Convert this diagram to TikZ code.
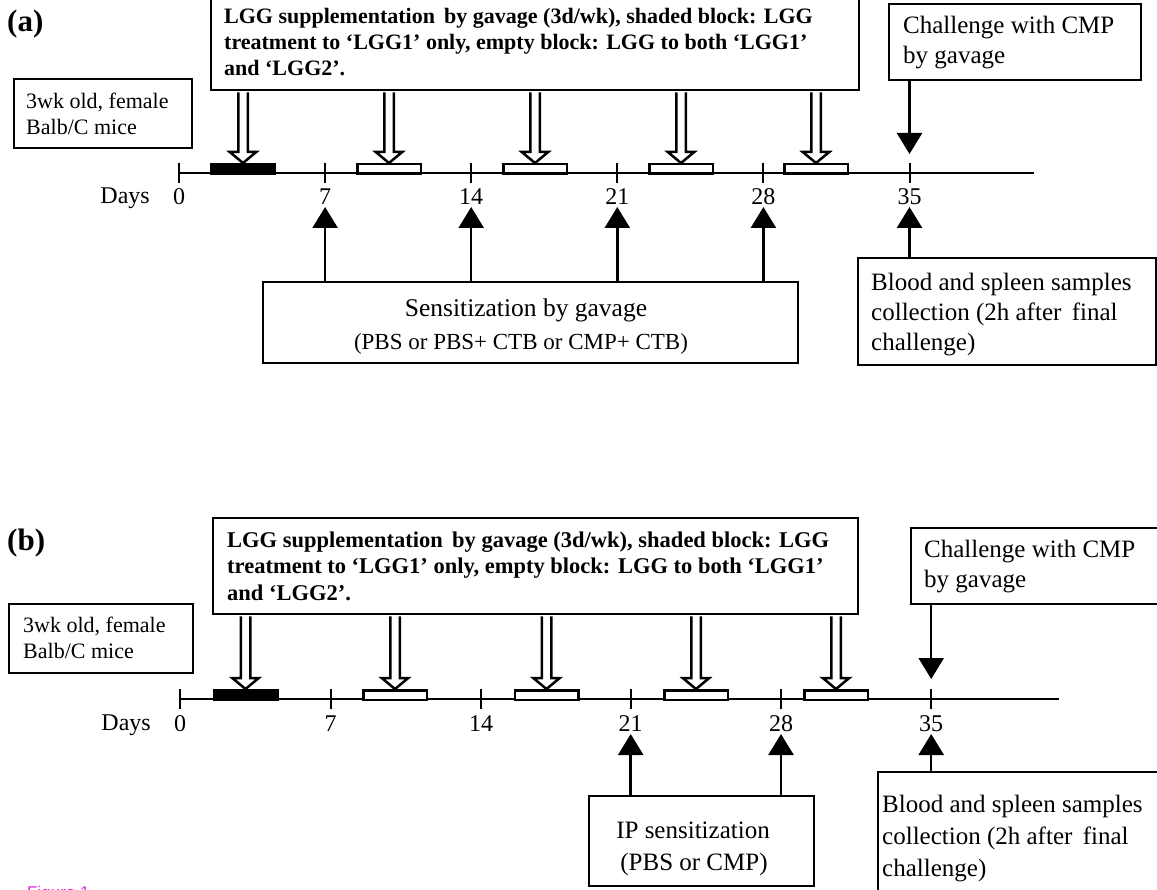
\documentclass[tikz,border=0pt]{standalone}
\usepackage{fontspec}
\setmainfont{Liberation Serif}
\newfontfamily\figsans{Liberation Sans}
\usetikzlibrary{arrows.meta,calc}
\definecolor{figpink}{RGB}{236,40,230}
\tikzset{
  box/.style={draw, line width=2.2pt, inner sep=0pt, anchor=north west},
  txt/.style={inner sep=0pt, anchor=north west, align=left},
  ctxt/.style={inner sep=0pt, anchor=base},
  blk/.style={draw, line width=2.5pt, minimum width=63.5pt, minimum height=9.5pt, inner sep=0pt, fill=white},
  blkfill/.style={blk, fill=black},
  hollow/.style={draw, fill=white, line width=2.5pt, line join=miter},
  solidarr/.style={line width=2.5pt, -{Triangle[width=25pt,length=21pt]}},
  axisline/.style={line width=2pt},
  tickl/.style={line width=2pt},
  num/.style={inner sep=0pt, anchor=base, font=\fontsize{24}{28}\selectfont},
  panel/.style={inner sep=0pt, anchor=base west, font=\fontsize{31}{36}\selectfont\bfseries},
}
\newcommand\hollowarr[2]{%
  \draw[hollow] ($(#1.south -| #2.north)+(-4.75,1.2)$) -- ($(#2.north)+(-4.75,-11)$)
    -- ($(#2.north)+(-13.25,-11)$) -- (#2.north) -- ($(#2.north)+(13.25,-11)$)
    -- ($(#2.north)+(4.75,-11)$) -- ($(#1.south -| #2.north)+(4.75,1.2)$);}
\begin{document}
\begin{tikzpicture}[x=1pt,y=-1pt]
\useasboundingbox (0,0) rectangle (1157,890);
\fill[white] (0,0) rectangle (1157,890);

% ================= panel (a) =================
\node[panel] (labA) at (7,32) {(a)};

\node[box, minimum width=178pt, minimum height=69pt] (mouseA) at (13,78) {};
\node[txt, font=\fontsize{22}{25.5}\selectfont] (mouseAt) at (26,93) {3wk old, female\\Balb/C mice};

\node[box, minimum width=648pt, minimum height=97pt] (lggA) at (210,-8) {};
\node[txt, font=\fontsize{22}{26}\selectfont\bfseries] (lggAt) at (224,8) {LGG supplementation\, by gavage (3d/wk), shaded block: LGG\\treatment to ‘LGG1’ only, empty block: LGG to both ‘LGG1’\\and ‘LGG2’.};

\node[box, minimum width=252pt, minimum height=76pt] (chalA) at (888,3) {};
\node[txt, font=\fontsize{25}{30}\selectfont] (chalAt) at (903,16) {Challenge with CMP\\by gavage};

\node[box, minimum width=535pt, minimum height=81pt] (sensA) at (262,281) {};
\node[ctxt, font=\fontsize{25.5}{30}\selectfont] (sensAt1) at (526,317) {Sensitization by gavage};
\node[ctxt, font=\fontsize{23}{27}\selectfont] (sensAt2) at (521,350) {(PBS or PBS+ CTB or CMP+ CTB)};

\node[box, minimum width=298pt, minimum height=107pt] (bloodA) at (857,257) {};
\node[txt, font=\fontsize{25}{30}\selectfont] (bloodAt) at (871,273) {Blood and spleen samples\\collection (2h after\, final\\challenge)};

% axis (a)
\coordinate (aend) at (1034,173);
\foreach \d/\x in {0/179,7/325.1,14/471.2,21/617.3,28/763.4,35/909.5}{
  \coordinate (a\d) at (\x,173);
  \draw[tickl] ($(a\d)+(0,-10)$) -- ($(a\d)+(0,10)$);
  \node[num] (na\d) at ($(a\d)+(0,32)$) {\d};
}
\draw[axisline] (a0) -- (aend);
\node[inner sep=0pt, anchor=base east, font=\fontsize{24}{28}\selectfont] (daysA) at (150,204) {Days};

% blocks (a)
\node[blkfill] (bA1) at (243,169) {};
\node[blk] (bA2) at (389,169) {};
\node[blk] (bA3) at (535,169) {};
\node[blk] (bA4) at (681,169) {};
\node[blk] (bA5) at (816,169) {};
\foreach \i in {1,...,5}{\hollowarr{lggA}{bA\i}}

% solid arrows (a)
\coordinate (cA) at (909.5,154);
\draw[solidarr] (chalA.south -| cA) -- (cA);
\foreach \d in {7,14,21,28}{
  \coordinate (uA\d) at ($(a\d)+(0,34)$);
  \draw[solidarr] (sensA.north -| uA\d) -- (uA\d);
}
\coordinate (uA35) at ($(a35)+(0,34)$);
\draw[solidarr] (bloodA.north -| uA35) -- (uA35);

% ================= panel (b) =================
\node[panel] (labB) at (7,550) {(b)};

\node[box, minimum width=184pt, minimum height=69pt] (mouseB) at (8,603) {};
\node[txt, font=\fontsize{22}{26}\selectfont] (mouseBt) at (23,617) {3wk old, female\\Balb/C mice};

\node[box, minimum width=645pt, minimum height=96pt] (lggB) at (212,517) {};
\node[txt, font=\fontsize{22.5}{26.5}\selectfont\bfseries] (lggBt) at (227,531.5) {LGG supplementation\, by gavage (3d/wk), shaded block: LGG\\treatment to ‘LGG1’ only, empty block: LGG to both ‘LGG1’\\and ‘LGG2’.};

\node[box, minimum width=260pt, minimum height=76pt] (chalB) at (910,527) {};
\node[txt, font=\fontsize{25}{30}\selectfont] (chalBt) at (924,540) {Challenge with CMP\\by gavage};

\node[box, minimum width=225pt, minimum height=90pt] (ipB) at (588,795) {};
\node[ctxt, font=\fontsize{25}{30}\selectfont] (ipBt1) at (693,838) {IP sensitization};
\node[ctxt, font=\fontsize{25}{30}\selectfont] (ipBt2) at (694,870) {(PBS or CMP)};

\node[box, minimum width=300pt, minimum height=140pt] (bloodB) at (877,771) {};
\node[txt, font=\fontsize{25}{32}\selectfont] (bloodBt) at (882,795) {Blood and spleen samples\\collection (2h after\, final\\challenge)};

% axis (b)
\coordinate (bend) at (1059,699);
\foreach \d/\x in {0/180,7/330.5,14/481,21/630.7,28/781,35/931.2}{
  \coordinate (b\d) at (\x,699);
  \draw[tickl] ($(b\d)+(0,-10)$) -- ($(b\d)+(0,10)$);
  \node[num] (nb\d) at ($(b\d)+(0,32)$) {\d};
}
\draw[axisline] (b0) -- (bend);
\node[inner sep=0pt, anchor=base east, font=\fontsize{24}{28}\selectfont] (daysB) at (151,730) {Days};

% blocks (b)
\node[blkfill] (bB1) at (245.5,695) {};
\node[blk] (bB2) at (395,695) {};
\node[blk] (bB3) at (546.5,695) {};
\node[blk] (bB4) at (696,695) {};
\node[blk] (bB5) at (836,695) {};
\foreach \i in {1,...,5}{\hollowarr{lggB}{bB\i}}

% solid arrows (b)
\coordinate (cB) at (931.2,679);
\draw[solidarr] (chalB.south -| cB) -- (cB);
\foreach \d in {21,28}{
  \coordinate (uB\d) at ($(b\d)+(0,35)$);
  \draw[solidarr] (ipB.north -| uB\d) -- (uB\d);
}
\coordinate (uB35) at ($(b35)+(0,35)$);
\draw[solidarr] (bloodB.north -| uB35) -- (uB35);

% caption, cut by the lower edge as in the reference
\node[inner sep=0pt, anchor=north west, text=figpink, font=\fontsize{17}{20}\figsans] (figcap) at (27,886) {Figure 1};
\end{tikzpicture}
\end{document}
